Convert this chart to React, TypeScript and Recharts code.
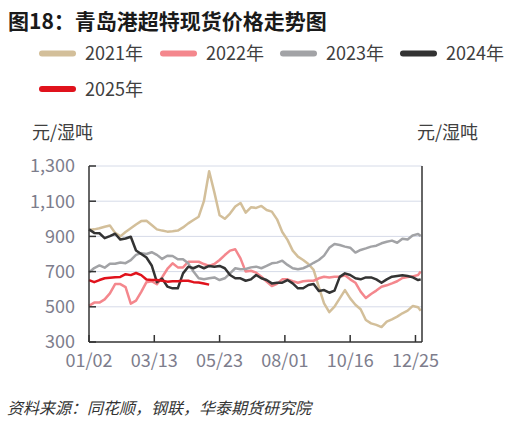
import React from "react";
import { LineChart, Line, XAxis, YAxis, CartesianGrid } from "recharts";

// trading-day index of each sample
const IDX = [
  0, 4, 8, 12, 16, 20, 24, 28, 32, 36, 40, 44, 48, 52, 56, 60, 64, 68, 72, 76, 80, 84,
  88, 92, 96, 100, 104, 108, 112, 116, 120, 124, 128, 132, 136, 140, 144, 148, 152, 156,
  160, 164, 168, 172, 176, 180, 184, 188, 192, 196, 200, 204, 208, 212, 216, 220, 224,
  228, 232, 236, 240, 244, 248, 252, 254,
];

const X_TICKS = [0, 50, 100, 150, 200, 250];
const X_LABELS = ["01/02", "03/13", "05/23", "08/01", "10/16", "12/25"];
const Y_TICKS = [300, 500, 700, 900, 1100, 1300];
const Y_LABELS = ["300", "500", "700", "900", "1,100", "1,300"];

const S2021 = [
  936, 940, 946, 955, 962, 920, 900, 925, 946, 968, 987, 989, 965, 940, 933, 927, 929, 933,
  951, 974, 993, 1012, 1100, 1270, 1150, 1020, 1000, 1030, 1070, 1090, 1035, 1065, 1062,
  1073, 1050, 1041, 997, 925, 880, 819, 785, 766, 743, 710, 612, 520, 470, 501, 548, 595,
  548, 512, 486, 425, 406, 397, 385, 416, 429, 444, 463, 478, 505, 497, 478,
];
const S2022 = [
  505, 524, 524, 542, 576, 629, 629, 612, 518, 535, 585, 640, 645, 628, 668, 715, 747, 724,
  724, 756, 756, 756, 743, 732, 743, 766, 794, 819, 827, 775, 700, 705, 694, 671, 643, 618,
  630, 656, 656, 646, 637, 645, 648, 648, 662, 671, 667, 671, 671, 679, 656, 637, 586, 550,
  573, 592, 614, 622, 633, 645, 664, 669, 673, 681, 700,
];
const S2023 = [
  695, 720, 735, 722, 745, 745, 752, 748, 765, 795, 805, 800, 810, 795, 772, 790, 789, 770,
  770, 747, 700, 662, 656, 662, 667, 652, 662, 690, 719, 713, 715, 724, 728, 719, 732, 747,
  751, 762, 738, 719, 713, 719, 732, 750, 766, 791, 835, 857, 851, 842, 836, 808, 823, 832,
  842, 847, 861, 870, 876, 864, 887, 883, 906, 914, 902,
];
const S2024 = [
  940, 920, 918, 890, 902, 915, 882, 888, 898, 820, 800, 780, 735, 640, 660, 615, 605, 605,
  690, 728, 719, 732, 719, 732, 728, 732, 719, 681, 662, 662, 648, 656, 681, 662, 652, 633,
  637, 637, 652, 633, 605, 605, 624, 630, 590, 595, 580, 592, 670, 690, 681, 662, 656, 667,
  667, 656, 637, 656, 671, 675, 679, 675, 667, 652, 656,
];
const S2025 = [
  652, 640, 652, 662, 665, 668, 670, 685, 680, 692, 680, 655, 652, 652, 648, 643, 645, 645,
  648, 648, 640, 638, 632, 626, null, null, null, null, null, null, null, null, null, null,
  null, null, null, null, null, null, null, null, null, null, null, null, null, null, null,
  null, null, null, null, null, null, null, null, null, null, null, null, null, null, null,
  null,
];

const SERIES = [
  { key: "y2021", name: "2021年", color: "#D3BF9A", values: S2021 },
  { key: "y2022", name: "2022年", color: "#F4878D", values: S2022 },
  { key: "y2023", name: "2023年", color: "#A2A3A6", values: S2023 },
  { key: "y2024", name: "2024年", color: "#333333", values: S2024 },
  { key: "y2025", name: "2025年", color: "#E0121C", values: S2025 },
];

const rows = IDX.map((i, k) => {
  const r: Record<string, number | null> = { i };
  SERIES.forEach((s) => {
    r[s.key] = s.values[k];
  });
  return r;
});

const FONT = "'Noto Sans CJK SC', 'Noto Sans', sans-serif";
const TICK_COLOR = "#7D7D8C";
const AXIS = { stroke: "#333333", strokeWidth: 1.5 };

const LEGEND_POS = [
  { x: 39, y: 50.5 },
  { x: 160, y: 50.5 },
  { x: 280, y: 50.5 },
  { x: 400, y: 50.5 },
  { x: 39, y: 86 },
];

export default function App() {
  const xLabel = (v: number) => X_LABELS[X_TICKS.indexOf(v)] ?? "";
  const yLabel = (v: number) => Y_LABELS[Y_TICKS.indexOf(v)] ?? String(v);
  return (
    <div
      style={{
        position: "absolute",
        left: 0,
        top: 0,
        width: 519,
        height: 426,
        background: "#ffffff",
        overflow: "hidden",
      }}
    >
      <LineChart
        width={519}
        height={426}
        data={rows}
        margin={{ top: 166, right: 0, bottom: 54, left: 0 }}
      >
        <CartesianGrid
          vertical={false}
          stroke="#D6DBE8"
          strokeWidth={1}
          horizontalValues={[500, 700, 900, 1100, 1300]}
        />
        <XAxis
          dataKey="i"
          type="number"
          domain={[0, 255]}
          ticks={X_TICKS}
          tickFormatter={xLabel}
          height={30}
          axisLine={AXIS}
          tickLine={AXIS}
          tickSize={-7}
          tickMargin={19}
          interval={0}
          tick={{ fill: TICK_COLOR, fontSize: 18, fontFamily: FONT }}
        />
        <YAxis
          yAxisId={0}
          orientation="left"
          domain={[300, 1300]}
          ticks={Y_TICKS}
          tickFormatter={yLabel}
          width={89}
          axisLine={AXIS}
          tickLine={AXIS}
          tickSize={-7}
          tickMargin={21}
          interval={0}
          tick={{ fill: TICK_COLOR, fontSize: 18, fontFamily: FONT }}
        />
        <YAxis
          yAxisId="r"
          orientation="right"
          domain={[300, 1300]}
          ticks={Y_TICKS}
          tickFormatter={yLabel}
          width={97}
          axisLine={AXIS}
          tickLine={AXIS}
          tickSize={-7}
          tickMargin={19}
          interval={0}
          tick={{ fill: TICK_COLOR, fontSize: 18, fontFamily: FONT }}
        />
        {SERIES.map((s) => (
          <Line
            key={s.key}
            yAxisId={0}
            type="linear"
            dataKey={s.key}
            name={s.name}
            stroke={s.color}
            strokeWidth={2.5}
            dot={false}
            activeDot={false}
            isAnimationActive={false}
            strokeLinejoin="round"
          />
        ))}
      </LineChart>
      <svg
        width={519}
        height={426}
        style={{ position: "absolute", left: 0, top: 0, pointerEvents: "none" }}
      >
        <text x={8} y={29} fontSize={21} fontWeight="bold" fill="#1a1a1a" fontFamily={FONT}>
          图18：青岛港超特现货价格走势图
        </text>
        {SERIES.map((s, k) => (
          <g key={s.key}>
            <rect
              x={LEGEND_POS[k].x}
              y={LEGEND_POS[k].y}
              width={37}
              height={6}
              rx={3}
              fill={s.color}
            />
            <text
              x={LEGEND_POS[k].x + 46}
              y={LEGEND_POS[k].y + 9.5}
              fontSize={18}
              fill="#404040"
              fontFamily={FONT}
            >
              {s.name}
            </text>
          </g>
        ))}
        <text x={32} y={139} fontSize={18} fill="#404040" fontFamily={FONT}>
          元/湿吨
        </text>
        <text x={417} y={139} fontSize={18} fill="#404040" fontFamily={FONT}>
          元/湿吨
        </text>
        <text x={7} y={414} fontSize={16} fontStyle="italic" fill="#333333" fontFamily={FONT}>
          资料来源：同花顺，钢联，华泰期货研究院
        </text>
      </svg>
    </div>
  );
}
